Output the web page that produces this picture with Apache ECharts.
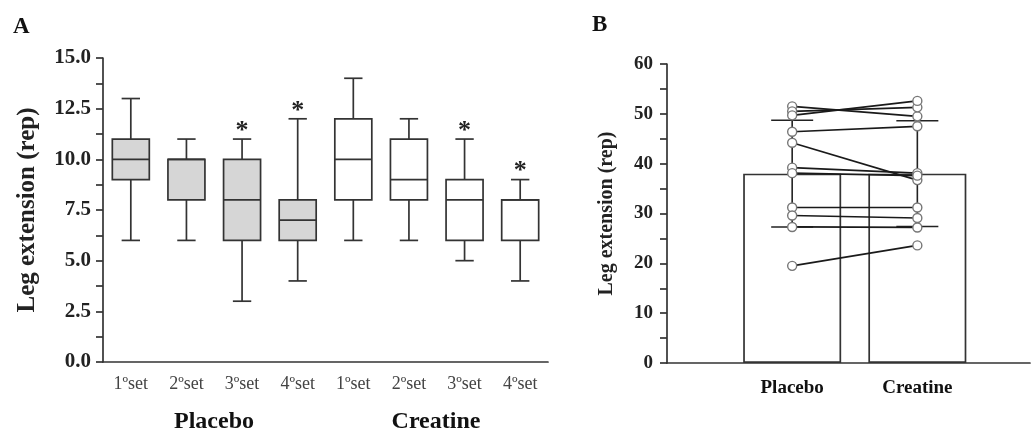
<!DOCTYPE html>
<html>
<head>
<meta charset="utf-8">
<script src="https://cdn.jsdelivr.net/npm/echarts@6/dist/echarts.min.js"></script>
<style>
html,body{margin:0;padding:0;background:#fff;}
#main{width:1035px;height:432px;}
</style>
</head>
<body>
<div id="main"></div>
<script>
// ---------- DATA ----------
const setLabels = ['1ºset','2ºset','3ºset','4ºset','1ºset','2ºset','3ºset','4ºset'];
const groupLabels = ['Placebo','Creatine'];
// [min, Q1, median, Q3, max]
const placeboBoxes = [[6,9,10,11,13],[6,8,10,10,11],[3,6,8,10,11],[4,6,7,8,12]];
const creatineBoxes = [[6,8,10,12,14],[6,8,9,11,12],[5,6,8,9,11],[4,6,8,8,9]];
const significant = [0,0,1,1,0,0,1,1];
const yTicksA = [0,2.5,5,7.5,10,12.5,15];

const barMeans = [38,38];
const barSD = [10.7,10.6];
const subjPlacebo = [51.5,50.5,49.7,46.4,44.2,39.2,38.1,31.2,29.6,27.3,19.5];
const subjCreatine = [49.5,51.3,52.6,47.5,36.7,38.1,37.6,31.2,29.1,27.2,23.6];

// ---------- CHART ----------
const serif = '"Liberation Serif","Times New Roman",serif';
const axisColor = '#333';
const chart = echarts.init(document.getElementById('main'), null, {renderer:'canvas'});

const boxData = placeboBoxes.concat(creatineBoxes).map((b,i)=>[i].concat(b).concat([significant[i], i<4?1:0]));

function renderBox(params, api){
  const idx = api.value(0);
  const vals = [1,2,3,4,5].map(d=>api.value(d));
  const sig = api.value(6);
  const isPlacebo = api.value(7);
  const band = api.size([1,0])[0];
  const bw = band*0.665, cw = band*0.33;
  const p = vals.map(v=>api.coord([idx,v]));
  const x = p[0][0];
  const st = {stroke:'#333', lineWidth:1.7, fill:null};
  const ch = [
    {type:'line', shape:{x1:x,y1:p[0][1],x2:x,y2:p[1][1]}, style:st},
    {type:'line', shape:{x1:x,y1:p[3][1],x2:x,y2:p[4][1]}, style:st},
    {type:'line', shape:{x1:x-cw/2,y1:p[0][1],x2:x+cw/2,y2:p[0][1]}, style:st},
    {type:'line', shape:{x1:x-cw/2,y1:p[4][1],x2:x+cw/2,y2:p[4][1]}, style:st},
    {type:'rect', shape:{x:x-bw/2,y:p[3][1],width:bw,height:p[1][1]-p[3][1]}, style:{fill:isPlacebo?'#d6d6d6':'#ffffff', stroke:'#333', lineWidth:1.7}},
    {type:'line', shape:{x1:x-bw/2,y1:p[2][1],x2:x+bw/2,y2:p[2][1]}, style:st}
  ];
  if (sig) {
    ch.push({type:'text', x:x, y:p[4][1]-8, style:{text:'*', font:'bold 26px '+serif, fill:'#222', align:'center', verticalAlign:'middle'}});
  }
  return {type:'group', children:ch};
}

function renderErr(params, api){
  const xv = api.value(0), m = api.value(1), sd = api.value(2);
  const top = api.coord([xv, m+sd]), bot = api.coord([xv, m-sd]);
  const hw = 21;
  const st = {stroke:'#222', lineWidth:1.6};
  return {type:'group', children:[
    {type:'line', shape:{x1:top[0],y1:top[1],x2:bot[0],y2:bot[1]}, style:st},
    {type:'line', shape:{x1:top[0]-hw,y1:top[1],x2:top[0]+hw,y2:top[1]}, style:st},
    {type:'line', shape:{x1:bot[0]-hw,y1:bot[1],x2:bot[0]+hw,y2:bot[1]}, style:st}
  ]};
}

const subjectSeries = subjPlacebo.map((v,i)=>({
  type:'line', xAxisIndex:1, yAxisIndex:1, z:5,
  data:[[1,v],[2,subjCreatine[i]]],
  symbol:'circle', symbolSize:9,
  lineStyle:{color:'#1a1a1a', width:1.7},
  itemStyle:{color:'#fff', borderColor:'#777', borderWidth:1.4},
  emphasis:{disabled:true}, silent:true, animation:false
}));

const option = {
  animation:false,
  backgroundColor:'#fff',
  grid:[
    {left:103, top:58, width:445, height:304},
    {left:667, top:64, width:363, height:299}
  ],
  xAxis:[
    {type:'category', gridIndex:0, data:setLabels, boundaryGap:true,
     axisLine:{lineStyle:{color:axisColor, width:1.7}},
     axisTick:{alignWithLabel:true, length:6, lineStyle:{color:axisColor, width:1.7}},
     axisLabel:{fontFamily:serif, fontSize:18, color:'#444', margin:13}},
    {type:'value', gridIndex:1, min:0, max:2.9, interval:1,
     splitLine:{show:false},
     axisLine:{lineStyle:{color:axisColor, width:1.7}},
     axisTick:{show:false},
     axisLabel:{fontFamily:serif, fontSize:19, fontWeight:'bold', color:'#111', margin:16,
       showMaxLabel:false,
       formatter:v=>groupLabels[Math.round(v)-1] || ''}}
  ],
  yAxis:[
    {type:'value', gridIndex:0, min:0, max:15, interval:2.5,
     name:'Leg extension (rep)', nameLocation:'middle', nameGap:63, nameRotate:90,
     nameTextStyle:{fontFamily:serif, fontSize:25, fontWeight:'bold', color:'#222'},
     splitLine:{show:false},
     axisLine:{show:true, lineStyle:{color:axisColor, width:1.7}},
     axisTick:{show:true, length:7, lineStyle:{color:axisColor, width:1.7}},
     minorTick:{show:true, splitNumber:2, length:7, lineStyle:{color:axisColor, width:1.7}},
     axisLabel:{fontFamily:serif, fontSize:21, fontWeight:'bold', color:'#222', margin:12,
       formatter:v=>yTicksA.indexOf(v)>=0 ? v.toFixed(1) : ''}},
    {type:'value', gridIndex:1, min:0, max:60, interval:10,
     name:'Leg extension (rep)', nameLocation:'middle', nameGap:50, nameRotate:90,
     nameTextStyle:{fontFamily:serif, fontSize:20, fontWeight:'bold', color:'#222'},
     splitLine:{show:false},
     axisLine:{show:true, lineStyle:{color:axisColor, width:1.7}},
     axisTick:{show:true, length:7, lineStyle:{color:axisColor, width:1.7}},
     minorTick:{show:true, splitNumber:2, length:7, lineStyle:{color:axisColor, width:1.7}},
     axisLabel:{fontFamily:serif, fontSize:19, fontWeight:'bold', color:'#222', margin:14}}
  ],
  graphic:[
    {type:'text', left:13, top:16, style:{text:'A', font:'bold 23px '+serif, fill:'#111'}},
    {type:'text', left:592, top:14, style:{text:'B', font:'bold 23px '+serif, fill:'#111'}},
    {type:'text', x:214, y:422, style:{text:groupLabels[0], font:'bold 24px '+serif, fill:'#111', align:'center', verticalAlign:'middle'}},
    {type:'text', x:436, y:422, style:{text:groupLabels[1], font:'bold 24px '+serif, fill:'#111', align:'center', verticalAlign:'middle'}}
  ],
  series:[
    {type:'custom', xAxisIndex:0, yAxisIndex:0, renderItem:renderBox,
     encode:{x:0, y:[1,2,3,4,5]}, data:boxData, silent:true},
    {type:'bar', xAxisIndex:1, yAxisIndex:1, barWidth:98, z:2,
     data:[[1,barMeans[0]],[2,barMeans[1]]],
     itemStyle:{color:'#fff', borderColor:'#333', borderWidth:1.7}, silent:true},
    {type:'custom', xAxisIndex:1, yAxisIndex:1, renderItem:renderErr, z:4,
     encode:{x:0, y:[1]}, data:[[1,barMeans[0],barSD[0]],[2,barMeans[1],barSD[1]]], silent:true}
  ].concat(subjectSeries)
};
chart.setOption(option);
</script>
</body>
</html>
